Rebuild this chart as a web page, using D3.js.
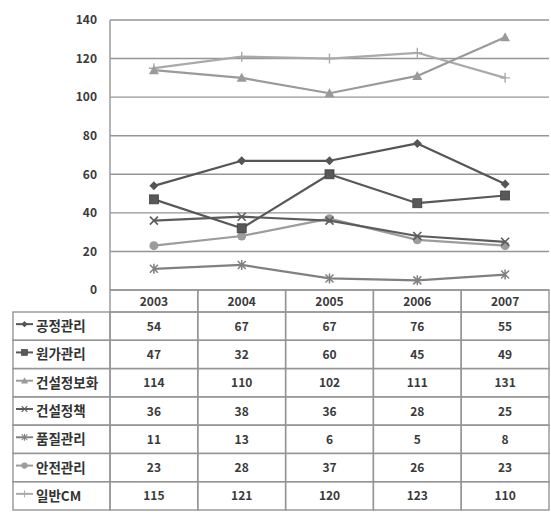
<!DOCTYPE html>
<html>
<head>
<meta charset="utf-8">
<script src="https://cdn.jsdelivr.net/npm/d3@7"></script>
<style>
  html, body { margin: 0; padding: 0; background: #fff; }
  svg { display: block; }
  text { font-family: "Noto Sans CJK KR", "Noto Sans", sans-serif; }
</style>
</head>
<body>
<svg id="chart" width="551" height="512"></svg>
<script>
// Years along the x axis
const years = ["2003", "2004", "2005", "2006", "2007"];

// Series names (Korean labels shown in the data table)
const seriesNames = ["공정관리", "원가관리", "건설정보화", "건설정책", "품질관리", "안전관리", "일반CM"];

// Values per series, one per year
const scheduleMgmt   = [54, 67, 67, 76, 55];
const costMgmt       = [47, 32, 60, 45, 49];
const constructionIT = [114, 110, 102, 111, 131];
const constructionPolicy = [36, 38, 36, 28, 25];
const qualityMgmt    = [11, 13, 6, 5, 8];
const safetyMgmt     = [23, 28, 37, 26, 23];
const generalCM      = [115, 121, 120, 123, 110];

const seriesValues = [scheduleMgmt, costMgmt, constructionIT, constructionPolicy, qualityMgmt, safetyMgmt, generalCM];

// Y axis ticks
const yTicks = [0, 20, 40, 60, 80, 100, 120, 140];

// Styling per series
const seriesColors = ["#555", "#585858", "#9a9a9a", "#5c5c5c", "#808080", "#9c9c9c", "#aaa"];
const seriesMarkers = ["diamond", "square", "triangle", "x", "asterisk", "circle", "plus"];

const svg = d3.select("#chart");

const plot = { left: 110, right: 549, top: 20, bottom: 290 };
const table = { left: 13, headerBottom: 312, bottom: 510 };

const x = d3.scaleBand().domain(years).range([plot.left, plot.right]);
const y = d3.scaleLinear().domain([0, 140]).range([plot.bottom, plot.top]);

const gridColor = "#959595";
const textColor = "#3a3a3a";

// Horizontal gridlines and y labels
const yAxis = d3.axisLeft(y).tickValues(yTicks).tickSize(0).tickPadding(13);
const yg = svg.append("g").attr("transform", `translate(${plot.left},0)`).call(yAxis);
yg.select(".domain").remove();
yg.selectAll("text")
  .attr("fill", textColor)
  .attr("font-size", 12)
  .attr("font-weight", "bold");

svg.append("g").selectAll("line").data(yTicks).join("line")
  .attr("x1", plot.left).attr("x2", plot.right)
  .attr("y1", d => y(d)).attr("y2", d => y(d))
  .attr("stroke", gridColor).attr("stroke-width", 1.4);

// Left border of plot area
svg.append("line")
  .attr("x1", plot.left).attr("x2", plot.left)
  .attr("y1", plot.top).attr("y2", plot.bottom)
  .attr("stroke", gridColor).attr("stroke-width", 1.4);

// Data table
const rowH = (table.bottom - table.headerBottom) / seriesNames.length;
const rowY = i => table.headerBottom + i * rowH;
const tg = svg.append("g");

// Header row: year cells
years.forEach(yr => {
  tg.append("rect")
    .attr("x", x(yr)).attr("y", plot.bottom)
    .attr("width", x.bandwidth()).attr("height", table.headerBottom - plot.bottom)
    .attr("fill", "none").attr("stroke", gridColor).attr("stroke-width", 1.4);
  tg.append("text")
    .attr("x", x(yr) + x.bandwidth() / 2)
    .attr("y", (plot.bottom + table.headerBottom) / 2 + 4.5)
    .attr("text-anchor", "middle")
    .attr("font-size", 12).attr("font-weight", "bold").attr("fill", textColor)
    .text(yr);
});

// Marker shapes
function drawMarker(g, type, cx, cy, color, k) {
  const s = k || 1;
  const m = g.append("g").attr("transform", `translate(${cx},${cy}) scale(${s})`);
  if (type === "diamond") {
    m.append("path").attr("d", "M0,-4.5L4.5,0L0,4.5L-4.5,0Z").attr("fill", color);
  } else if (type === "square") {
    m.append("rect").attr("x", -4.5).attr("y", -4.5).attr("width", 9).attr("height", 9)
      .attr("fill", color).attr("stroke", "#444").attr("stroke-width", 0.8);
  } else if (type === "triangle") {
    m.append("path").attr("d", "M0,-5L5,4L-5,4Z").attr("fill", color);
  } else if (type === "circle") {
    m.append("circle").attr("r", 4.5).attr("fill", color);
  } else if (type === "x") {
    m.append("path").attr("d", "M-4,-4L4,4M-4,4L4,-4").attr("stroke", color).attr("stroke-width", 1.6);
  } else if (type === "asterisk") {
    m.append("path").attr("d", "M-4,-4L4,4M-4,4L4,-4M0,-5L0,5").attr("stroke", color).attr("stroke-width", 1.5);
  } else if (type === "plus") {
    m.append("path").attr("d", "M-5,0L5,0M0,-5L0,5").attr("stroke", color).attr("stroke-width", 1.4);
  }
}

// Body rows
seriesNames.forEach((name, i) => {
  tg.append("rect")
    .attr("x", table.left).attr("y", rowY(i))
    .attr("width", plot.left - table.left).attr("height", rowH)
    .attr("fill", "none").attr("stroke", gridColor).attr("stroke-width", 1.4);
  years.forEach((yr, j) => {
    tg.append("rect")
      .attr("x", x(yr)).attr("y", rowY(i))
      .attr("width", x.bandwidth()).attr("height", rowH)
      .attr("fill", "none").attr("stroke", gridColor).attr("stroke-width", 1.4);
    tg.append("text")
      .attr("x", x(yr) + x.bandwidth() / 2)
      .attr("y", rowY(i) + rowH / 2 + 4.5)
      .attr("text-anchor", "middle")
      .attr("font-size", 12).attr("font-weight", "bold").attr("fill", textColor)
      .text(seriesValues[i][j]);
  });
  // legend key
  const ky = rowY(i) + rowH / 2;
  tg.append("line")
    .attr("x1", 16).attr("x2", 33).attr("y1", ky - 2).attr("y2", ky - 2)
    .attr("stroke", seriesColors[i]).attr("stroke-width", 2);
  drawMarker(tg, seriesMarkers[i], 24.5, ky - 2, seriesColors[i], 0.7);
  tg.append("text")
    .attr("x", 36).attr("y", ky + 5)
    .attr("font-size", 13.5).attr("font-weight", "bold").attr("fill", "#333")
    .text(name);
});

// Lines
const line = d3.line()
  .x((d, j) => x(years[j]) + x.bandwidth() / 2)
  .y(d => y(d));

const drawOrder = [6, 2, 5, 4, 3, 1, 0];
drawOrder.forEach(i => {
  const g = svg.append("g");
  g.append("path")
    .attr("d", line(seriesValues[i]))
    .attr("fill", "none")
    .attr("stroke", seriesColors[i])
    .attr("stroke-width", 2.2)
    .attr("stroke-linejoin", "round");
  seriesValues[i].forEach((v, j) => {
    drawMarker(g, seriesMarkers[i], x(years[j]) + x.bandwidth() / 2, y(v), seriesColors[i], 1);
  });
});
</script>
</body>
</html>
